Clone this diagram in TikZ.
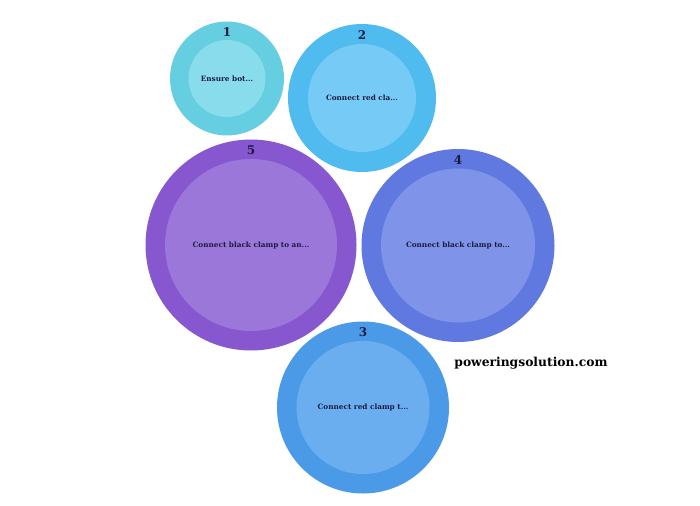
\documentclass[tikz,border=0pt]{standalone}
\usepackage{fontspec}
\setmainfont{DejaVu Serif}
\begin{document}
\begin{tikzpicture}[x=1pt,y=-1pt,
  outerc/.style={circle,inner sep=0pt,minimum size=#1},
  innerc/.style={circle,inner sep=0pt,minimum size=#1},
  txt/.style={font=\fontsize{7.3}{8}\selectfont\bfseries,text=navy},
  num/.style={font=\fontsize{12}{14}\selectfont\bfseries,text=navy}]
\definecolor{navy}{HTML}{1B1B3F}
\definecolor{o1}{HTML}{65CEE1}\definecolor{i1}{HTML}{88DCEB}
\definecolor{o2}{HTML}{4FBBEF}\definecolor{i2}{HTML}{76CBF6}
\definecolor{o5}{HTML}{8657CF}\definecolor{i5}{HTML}{9C77DA}
\definecolor{o4}{HTML}{5F79E0}\definecolor{i4}{HTML}{7F93E8}
\definecolor{o3}{HTML}{4A9AE8}\definecolor{i3}{HTML}{6BAEF0}
\useasboundingbox[fill=white] (0,0) rectangle (700,505);
% circle 1
\node[outerc=114pt,fill=o1] (c1) at (227,78.5) {};
\node[innerc=77pt,fill=i1] (c1i) at (c1) {};
\node[txt] (t1) at (c1) {Ensure bot...};
\node[num] (n1) at ([yshift=-10.5pt]c1.north) {1};
% circle 2
\node[outerc=148pt,fill=o2] (c2) at (362,98) {};
\node[innerc=108pt,fill=i2] (c2i) at (c2) {};
\node[txt] (t2) at (c2) {Connect red cla...};
\node[num] (n2) at ([yshift=-11.5pt]c2.north) {2};
% circle 5
\node[outerc=211pt,fill=o5] (c5) at (251,245) {};
\node[innerc=172pt,fill=i5] (c5i) at (c5) {};
\node[txt] (t5) at (c5) {Connect black clamp to an...};
\node[num] (n5) at ([yshift=-10.5pt]c5.north) {5};
% circle 4
\node[outerc=193pt,fill=o4] (c4) at (458,245.5) {};
\node[innerc=154pt,fill=i4] (c4i) at (c4) {};
\node[txt] (t4) at (c4) {Connect black clamp to...};
\node[num] (n4) at ([yshift=-11pt]c4.north) {4};
% circle 3
\node[outerc=172pt,fill=o3] (c3) at (363,407.5) {};
\node[innerc=133pt,fill=i3] (c3i) at (c3) {};
\node[txt] (t3) at (c3) {Connect red clamp t...};
\node[num] (n3) at ([yshift=-10.5pt]c3.north) {3};
% watermark
\node[font=\fontsize{12.3}{14}\selectfont\bfseries,text=black] (wm) at (531,363) {poweringsolution.com};
\end{tikzpicture}
\end{document}
